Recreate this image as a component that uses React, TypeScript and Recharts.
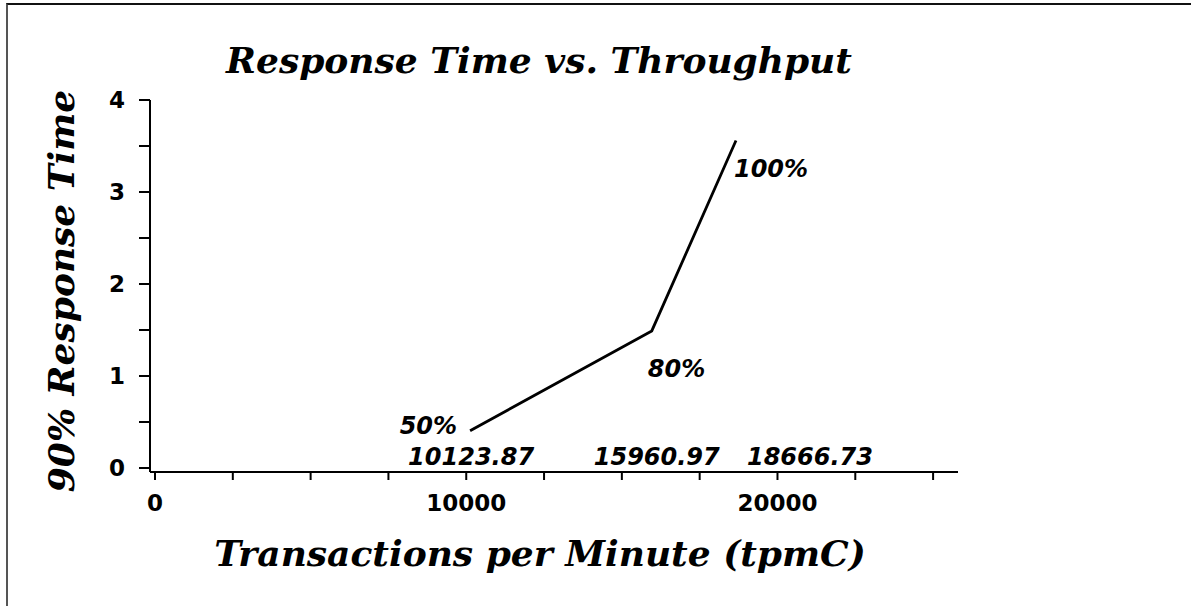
import { Label, LabelList, Line, LineChart, XAxis, YAxis } from "recharts";

// measured points from the benchmark run
const tpmC = [10123.87, 15960.97, 18666.73];
const responseTime = [0.405, 1.49, 3.56];
const loadLevels = ["50%", "80%", "100%"];
const tpmText = ["10123.87", "15960.97", "18666.73"];

const xTicks = [0, 2500, 5000, 7500, 10000, 12500, 15000, 17500, 20000, 22500, 25000];
const xTickLabels = [0, 10000, 20000];
const yTicks = [0, 0.5, 1, 1.5, 2, 2.5, 3, 3.5, 4];
const yTickLabels = [0, 1, 2, 3, 4];

const curve = tpmC.map((t, i) => ({ tpm: t, rt: responseTime[i], load: loadLevels[i] }));
const baseline = tpmC.map((t, i) => ({ tpm: t, rt: 0, text: tpmText[i] }));

const serif = "'DejaVu Serif', serif";
const sans = "'DejaVu Sans', sans-serif";

const XTick = ({ x, y, payload }: any) => {
  if (!xTickLabels.includes(payload.value)) return null;
  return (
    <text x={x} y={y + 31} textAnchor="middle" fontFamily={sans} fontWeight="bold" fontSize={23} fill="#000">
      {payload.value}
    </text>
  );
};

const YTick = ({ x, y, payload }: any) => {
  if (!yTickLabels.includes(payload.value)) return null;
  return (
    <text x={x} y={y} dy="0.36em" textAnchor="end" fontFamily={sans} fontWeight="bold" fontSize={23} fill="#000">
      {payload.value}
    </text>
  );
};

// where each load label sits relative to its point
const loadPlacement = [
  { dx: -13, dy: 3, anchor: "end" },
  { dx: -4, dy: 46, anchor: "start" },
  { dx: -2, dy: 37, anchor: "start" },
];

const LoadLabel = ({ x, y, value, index }: any) => {
  const p = loadPlacement[index];
  return (
    <text x={x + p.dx} y={y + p.dy} textAnchor={p.anchor} fontFamily={sans} fontWeight="bold" fontStyle="italic" fontSize={24} fill="#000">
      {value}
    </text>
  );
};

const valuePlacement = [
  { dx: 1, anchor: "middle" },
  { dx: 5, anchor: "middle" },
  { dx: 11, anchor: "start" },
];

const ValueLabel = ({ x, y, value, index }: any) => {
  const p = valuePlacement[index];
  return (
    <text x={x + p.dx} y={y - 3} textAnchor={p.anchor} fontFamily={sans} fontWeight="bold" fontStyle="italic" fontSize={24} fill="#000">
      {value}
    </text>
  );
};

export default function App() {
  return (
    <div style={{ position: "absolute", left: 0, top: 0, width: 1191, height: 606, background: "#fff" }}>
      <div
        style={{
          position: "absolute",
          left: 6,
          top: 3,
          right: 0,
          bottom: 0,
          borderTop: "2px solid #111",
          borderLeft: "2px solid #555",
        }}
      />
      <div
        style={{
          position: "absolute",
          left: 0,
          width: 1078,
          top: 37,
          textAlign: "center",
          fontFamily: serif,
          fontWeight: "bold",
          fontStyle: "italic",
          fontSize: 36,
          lineHeight: "46px",
        }}
      >
        Response Time vs. Throughput
      </div>
      <LineChart width={1191} height={606} margin={{ top: 100, right: 233, bottom: 104, left: 0 }}>
        <XAxis
          type="number"
          dataKey="tpm"
          domain={[0, 25800]}
          ticks={xTicks}
          allowDataOverflow
          padding={{ left: 5, right: 0 }}
          tickSize={8}
          tickMargin={0}
          tick={<XTick />}
          axisLine={{ stroke: "#000", strokeWidth: 2 }}
          tickLine={{ stroke: "#000", strokeWidth: 2 }}
        >
          <Label
            content={() => (
              <text x={540} y={566} textAnchor="middle" fontFamily={serif} fontWeight="bold" fontStyle="italic" fontSize={36} fill="#000">
                Transactions per Minute (tpmC)
              </text>
            )}
          />
        </XAxis>
        <YAxis
          type="number"
          dataKey="rt"
          domain={[0, 4]}
          ticks={yTicks}
          width={150}
          padding={{ top: 0, bottom: 4 }}
          tickSize={11}
          tickMargin={14}
          tick={<YTick />}
          axisLine={{ stroke: "#000", strokeWidth: 2 }}
          tickLine={{ stroke: "#000", strokeWidth: 2 }}
        >
          <Label
            content={() => (
              <text
                x={74}
                y={291}
                transform="rotate(-90 74 291)"
                textAnchor="middle"
                fontFamily={serif}
                fontWeight="bold"
                fontStyle="italic"
                fontSize={36}
                fill="#000"
              >
                90% Response Time
              </text>
            )}
          />
        </YAxis>
        <Line
          data={curve}
          dataKey="rt"
          stroke="#000"
          strokeWidth={2.8}
          dot={false}
          activeDot={false}
          isAnimationActive={false}
        >
          <LabelList dataKey="load" content={<LoadLabel />} />
        </Line>
        <Line
          data={baseline}
          dataKey="rt"
          stroke="none"
          dot={false}
          activeDot={false}
          isAnimationActive={false}
        >
          <LabelList dataKey="text" content={<ValueLabel />} />
        </Line>
      </LineChart>
    </div>
  );
}
